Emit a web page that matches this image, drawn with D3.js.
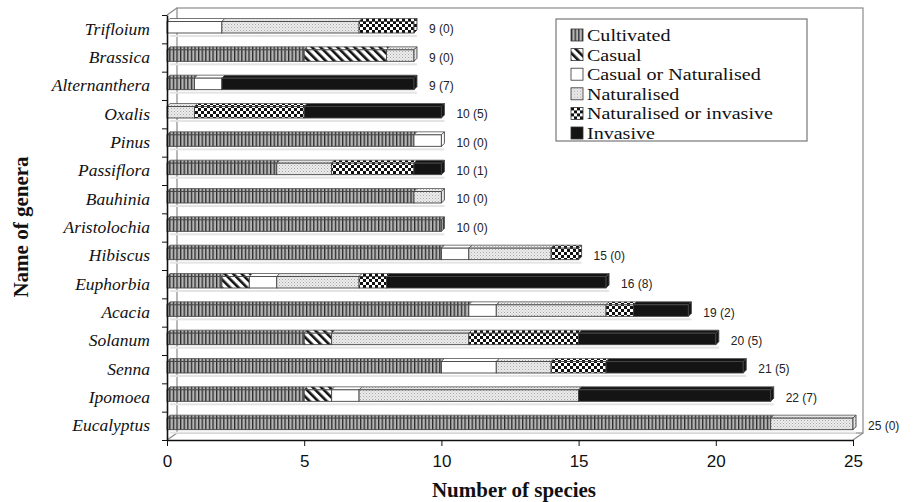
<!DOCTYPE html>
<html>
<head>
<meta charset="utf-8">
<script src="https://cdn.jsdelivr.net/npm/d3@7"></script>
<style>
  body { margin: 0; background: #fff; }
  svg { display: block; }
</style>
</head>
<body>
<div id="chart"></div>
<script>
// genera, top to bottom
const genera = ['Trifloium', 'Brassica', 'Alternanthera', 'Oxalis', 'Pinus', 'Passiflora', 'Bauhinia', 'Aristolochia', 'Hibiscus', 'Euphorbia', 'Acacia', 'Solanum', 'Senna', 'Ipomoea', 'Eucalyptus']
const statuses = ['Cultivated', 'Casual', 'Casual or Naturalised', 'Naturalised', 'Naturalised or invasive', 'Invasive']

// number of species per status
const cultivated  = [0, 5, 1, 0, 9, 4, 9, 10, 10, 2, 11, 5, 10, 5, 22]
const casual      = [0, 3, 0, 0, 0, 0, 0, 0, 0, 1, 0, 1, 0, 1, 0]
const casualOrNat = [2, 0, 1, 0, 1, 0, 0, 0, 1, 1, 1, 0, 2, 1, 0]
const naturalised = [5, 1, 0, 1, 0, 2, 1, 0, 3, 3, 4, 5, 2, 8, 3]
const natOrInv    = [2, 0, 0, 4, 0, 3, 0, 0, 1, 1, 1, 4, 2, 0, 0]
const invasive    = [0, 0, 7, 5, 0, 1, 0, 0, 0, 8, 2, 5, 5, 7, 0]

const xTicks = [0, 5, 10, 15, 20, 25]

const series = [cultivated, casual, casualOrNat, naturalised, natOrInv, invasive]
const rows = genera.map((g, i) => {
    const row = { genus: g }
    statuses.forEach((s, j) => row[s] = series[j][i])
    return row
})

const width = 913
const height = 502
const depth = 10, depthY = 7   // wall depth
const bd = 3                   // bar depth

const svg = d3.select('#chart')
    .append('svg')
    .attr('width', width)
    .attr('height', height)

// patterns for the statuses
const defs = svg.append('defs')

const pCult = defs.append('pattern').attr('id', 'p0')
    .attr('patternUnits', 'userSpaceOnUse').attr('width', 3.6).attr('height', 10)
pCult.append('rect').attr('width', 3.6).attr('height', 10).attr('fill', '#b4b4b4')
pCult.append('rect').attr('x', 0).attr('width', 1.3).attr('height', 10).attr('fill', '#2a2a2a')

const pCas = defs.append('pattern').attr('id', 'p1')
    .attr('patternUnits', 'userSpaceOnUse').attr('width', 6).attr('height', 6)
    .attr('patternTransform', 'rotate(-45)')
pCas.append('rect').attr('width', 6).attr('height', 6).attr('fill', '#fff')
pCas.append('rect').attr('width', 2.6).attr('height', 6).attr('fill', '#111')

const pNat = defs.append('pattern').attr('id', 'p3')
    .attr('patternUnits', 'userSpaceOnUse').attr('width', 3).attr('height', 3)
pNat.append('rect').attr('width', 3).attr('height', 3).attr('fill', '#ececec')
pNat.append('rect').attr('x', 0).attr('y', 0).attr('width', 1).attr('height', 1).attr('fill', '#a8a8a8')
pNat.append('rect').attr('x', 1.5).attr('y', 1.5).attr('width', 1).attr('height', 1).attr('fill', '#bdbdbd')

const pCheck = defs.append('pattern').attr('id', 'p4')
    .attr('patternUnits', 'userSpaceOnUse').attr('width', 6).attr('height', 6)
pCheck.append('rect').attr('width', 6).attr('height', 6).attr('fill', '#fff')
pCheck.append('rect').attr('width', 3).attr('height', 3).attr('fill', '#111')
pCheck.append('rect').attr('x', 3).attr('y', 3).attr('width', 3).attr('height', 3).attr('fill', '#111')

const fills = ['url(#p0)', 'url(#p1)', '#ffffff', 'url(#p3)', 'url(#p4)', '#141414']

// scales
const x = d3.scaleLinear()
    .domain([0, 25])
    .range([167, 853])

const y = d3.scaleBand()
    .domain(genera)
    .range([15, 440])

// back wall and floor
const wall = svg.append('g')
    .attr('fill', 'none')
    .attr('stroke', '#8a8a8a')
    .attr('stroke-width', 1.2)
wall.append('rect')
    .attr('x', x(0) + depth).attr('y', 15 - depthY)
    .attr('width', x(25) - x(0)).attr('height', 440 - 15)
wall.append('line')
    .attr('x1', x(0)).attr('y1', 15).attr('x2', x(0) + depth).attr('y2', 15 - depthY)
wall.append('line')
    .attr('x1', x(0)).attr('y1', 440).attr('x2', x(0) + depth).attr('y2', 440 - depthY)
wall.append('line')
    .attr('x1', x(25)).attr('y1', 440).attr('x2', x(25) + depth).attr('y2', 440 - depthY)

// stacked bars
const stacked = d3.stack().keys(statuses)(rows)

const barTop = g => y(g) + 6.5
const barH = 11.5

// faint shadow below each bar
svg.append('g').selectAll('rect')
    .data(rows)
    .join('rect')
    .attr('x', x(0) + 3)
    .attr('y', d => barTop(d.genus) + barH + 2)
    .attr('width', d => x(d3.sum(statuses, s => d[s])) - x(0))
    .attr('height', 2)
    .attr('fill', '#e4e4e4')

stacked.forEach((layer, j) => {
    const g = svg.append('g')
    const segs = layer.filter(d => d[1] - d[0] > 0)

    // top face
    g.selectAll('.top')
        .data(segs)
        .join('polygon')
        .attr('points', d => {
            const x0 = x(d[0]), x1 = x(d[1]), t = barTop(d.data.genus)
            return [[x0, t], [x0 + bd, t - bd], [x1 + bd, t - bd], [x1, t]].join(' ')
        })
        .attr('fill', fills[j])
        .attr('stroke', '#555')
        .attr('stroke-width', 0.8)

    // front face
    g.selectAll('.front')
        .data(segs)
        .join('rect')
        .attr('x', d => x(d[0]))
        .attr('y', d => barTop(d.data.genus))
        .attr('width', d => x(d[1]) - x(d[0]))
        .attr('height', barH)
        .attr('fill', fills[j])
        .attr('stroke', '#444')
        .attr('stroke-width', 0.9)
})

// end caps of bars
svg.append('g').selectAll('polygon')
    .data(rows)
    .join('polygon')
    .attr('points', d => {
        const total = d3.sum(statuses, s => d[s])
        const x1 = x(total), t = barTop(d.genus)
        return [[x1, t], [x1 + bd, t - bd], [x1 + bd, t + barH - bd], [x1, t + barH]].join(' ')
    })
    .attr('fill', d => {
        const last = statuses.map((s, j) => d[s] > 0 ? j : -1).filter(j => j >= 0).pop()
        return fills[last]
    })
    .attr('stroke', '#444')
    .attr('stroke-width', 0.9)

// value labels, total (invasive)
svg.append('g').selectAll('text')
    .data(rows)
    .join('text')
    .attr('x', d => x(d3.sum(statuses, s => d[s])) + 15)
    .attr('y', d => y(d.genus) + y.bandwidth() / 2)
    .attr('dy', '0.35em')
    .style('font-family', '"Liberation Sans", Arial, sans-serif')
    .style('font-size', '12px')
    .attr('fill', '#222')
    .text(d => `${d3.sum(statuses, s => d[s])} (${d.Invasive})`)

// x axis
const xAxis = svg.append('g')
    .attr('transform', 'translate(0,440)')
    .call(d3.axisBottom(x).tickValues(xTicks).tickSize(6).tickSizeOuter(0))
xAxis.select('.domain').attr('stroke', '#111').attr('stroke-width', 1.6)
xAxis.selectAll('.tick line').attr('stroke', '#111')
xAxis.selectAll('.tick text')
    .attr('y', 15)
    .style('font-family', '"Liberation Sans", Arial, sans-serif')
    .style('font-size', '17px')
    .attr('fill', '#111')

// y axis: ticks at category boundaries
const yEdges = d3.scaleLinear().domain([0, genera.length]).range([15, 440])
const yAxis = svg.append('g')
    .attr('transform', `translate(${x(0)},0)`)
    .call(d3.axisLeft(yEdges).ticks(genera.length).tickFormat('').tickSize(5).tickSizeOuter(0))
yAxis.select('.domain').attr('stroke', '#111').attr('stroke-width', 1.6)
yAxis.selectAll('.tick line').attr('stroke', '#111')

const yLabels = svg.append('g')
    .attr('transform', 'translate(150,0)')
    .call(d3.axisLeft(y).tickSize(0).tickPadding(0))
yLabels.select('.domain').remove()
yLabels.selectAll('text')
    .style('font-family', '"Liberation Serif", "Times New Roman", serif')
    .style('font-style', 'italic')
    .style('font-size', '17.5px')
    .attr('fill', '#111')

// axis titles
svg.append('text')
    .attr('x', 514)
    .attr('y', 497)
    .style('text-anchor', 'middle')
    .style('font-family', '"Liberation Serif", "Times New Roman", serif')
    .style('font-weight', 'bold')
    .style('font-size', '21px')
    .attr('fill', '#111')
    .text('Number of species')

svg.append('text')
    .attr('transform', 'translate(28,227) rotate(-90)')
    .style('text-anchor', 'middle')
    .style('font-family', '"Liberation Serif", "Times New Roman", serif')
    .style('font-weight', 'bold')
    .style('font-size', '21px')
    .attr('fill', '#111')
    .text('Name of genera')

// legend
const legend = svg.append('g')
legend.append('rect')
    .attr('x', 556).attr('y', 19)
    .attr('width', 251).attr('height', 122)
    .attr('fill', '#fff')
    .attr('stroke', '#777')
    .attr('stroke-width', 1.2)

const items = legend.selectAll('.item')
    .data(statuses)
    .join('g')
    .attr('transform', (d, i) => `translate(571,${35 + i * 19.6})`)

items.append('rect')
    .attr('x', 0).attr('y', -6)
    .attr('width', 12).attr('height', 12)
    .attr('fill', (d, i) => fills[i])
    .attr('stroke', '#333')
    .attr('stroke-width', 0.8)

// text is a bit wide and tightly spaced in the original
items.append('text')
    .attr('transform', 'translate(16,0) scale(1.18,1)')
    .attr('dy', '0.35em')
    .style('font-family', '"Liberation Serif", "Times New Roman", serif')
    .style('font-size', '17px')
    .attr('fill', '#111')
    .text(d => d)
</script>
</body>
</html>
